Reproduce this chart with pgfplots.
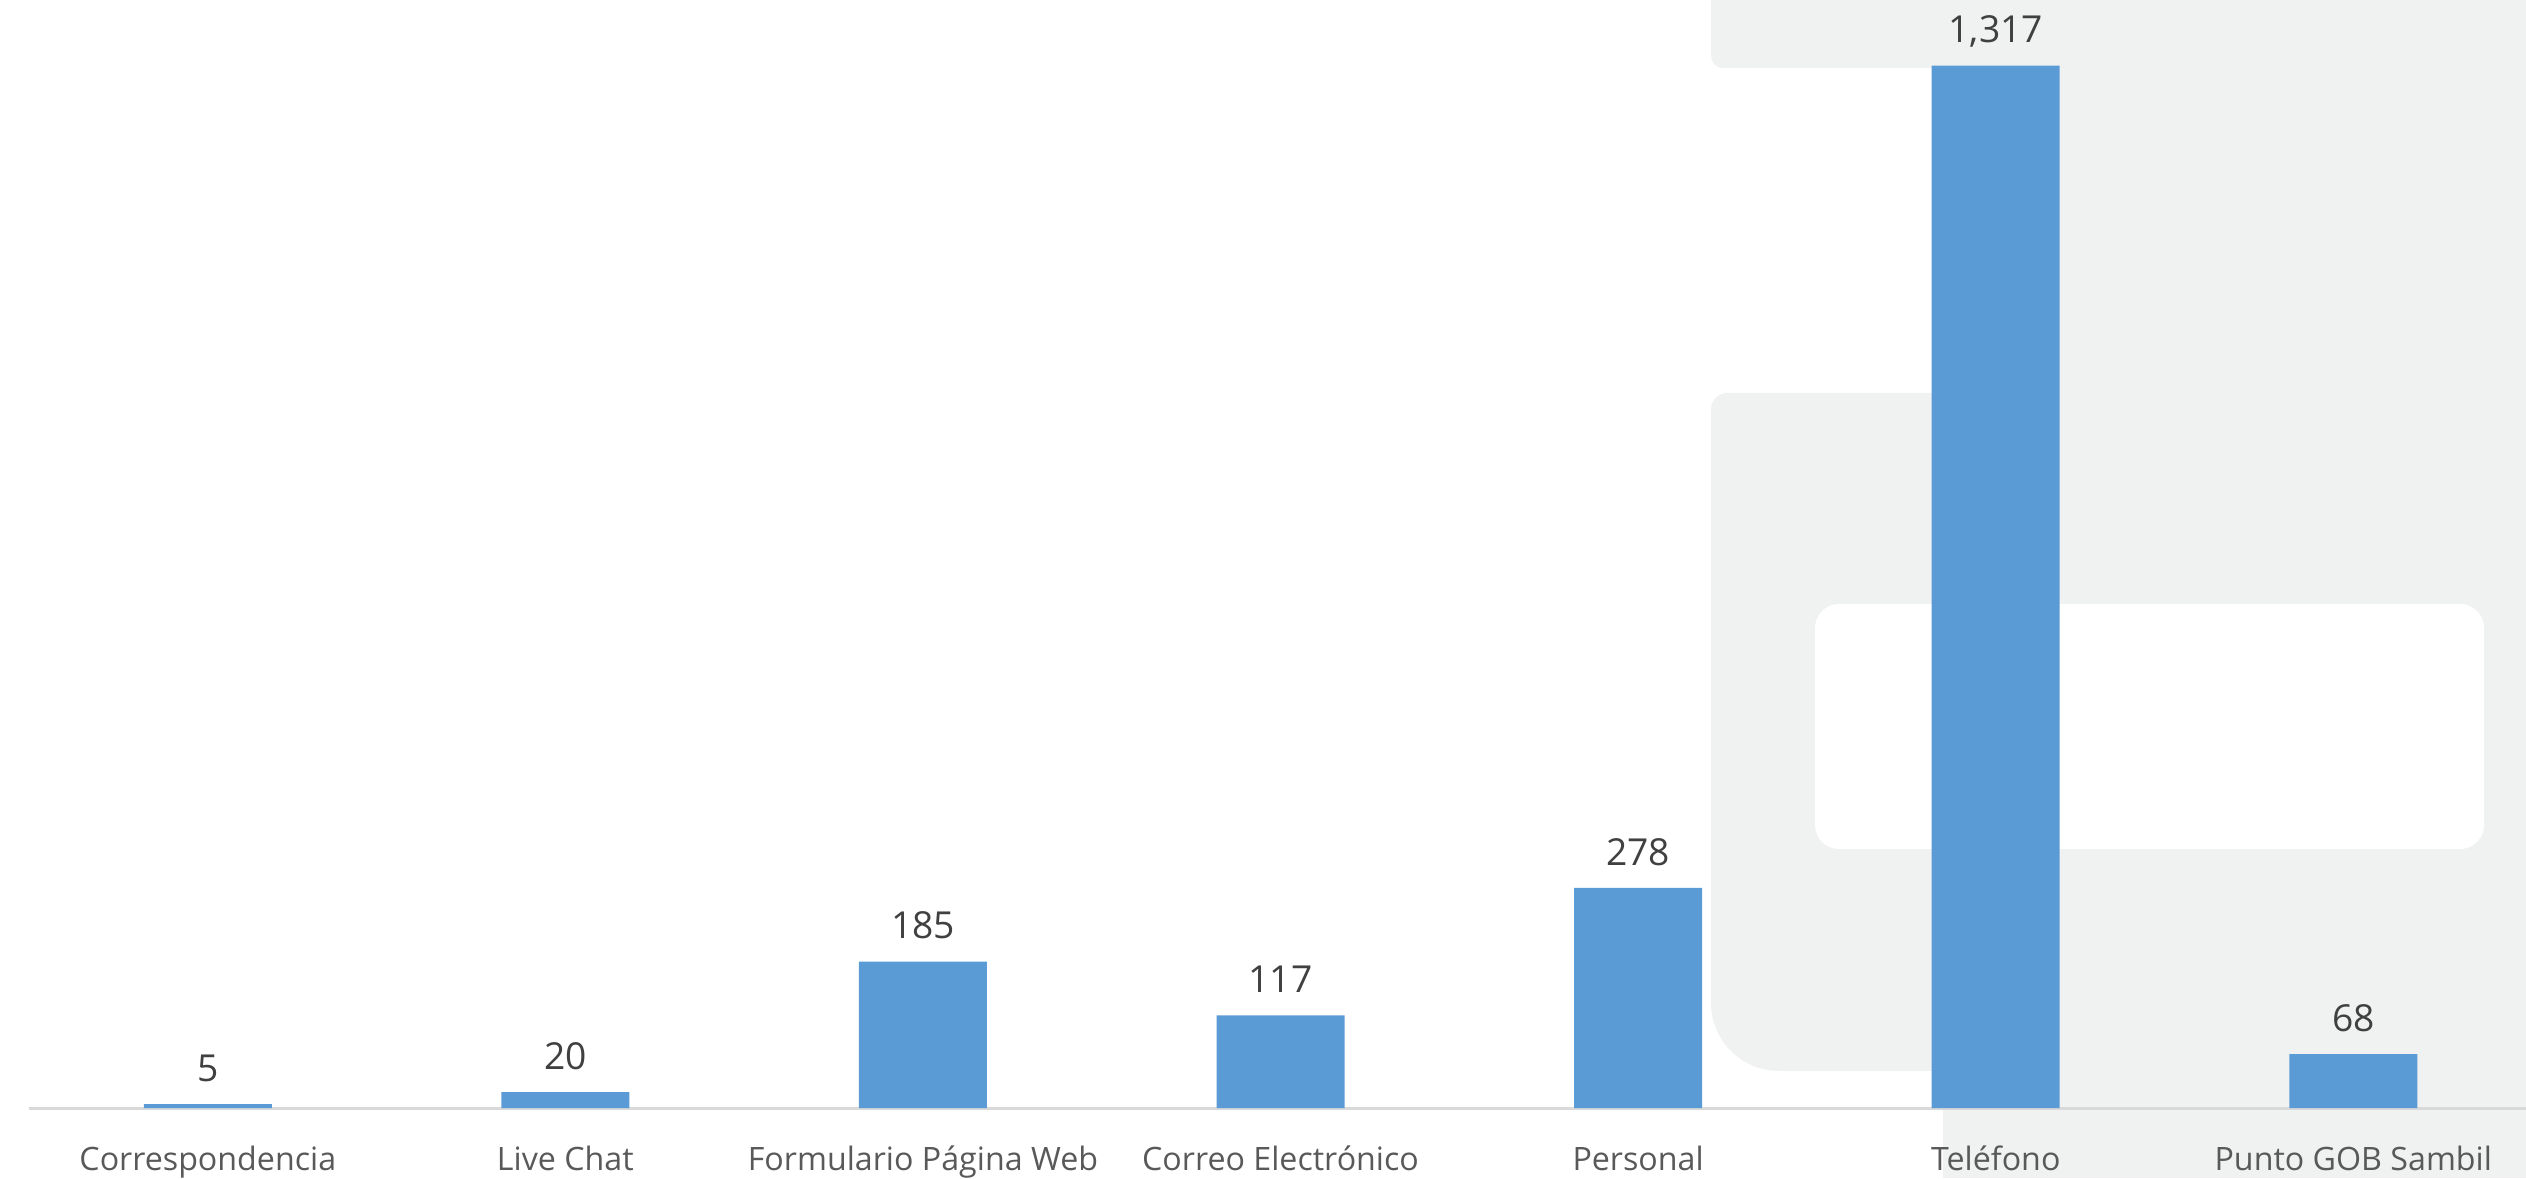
\documentclass[border=0pt]{standalone}
\usepackage{fontspec}
\setmainfont{Open Sans}
\usepackage{pgfplots}
\pgfplotsset{compat=1.18}
\definecolor{barblue}{HTML}{5B9BD5}
\definecolor{bggray}{HTML}{F0F1F1}
\definecolor{axisgray}{HTML}{D9D9D9}
\definecolor{ticktext}{HTML}{595959}
\definecolor{labeltext}{HTML}{404040}
\begin{document}
\begin{tikzpicture}
% background watermark, in reference pixel units
\begin{scope}[shift={(-7.25pt,277pt)},x=0.25pt,y=-0.25pt]
  \fill[bggray, rounded corners=3pt] (1711,0) rectangle (2526,68);
  \fill[bggray] (1760,0) rectangle (2526,68);
  \fill[bggray] (1711,0) rectangle (1760,30);
  \fill[bggray] (1995,0) rectangle (2526,1108);
  \fill[bggray] (1943,1108) rectangle (2526,1178);
  \fill[bggray, rounded corners=4pt] (1711,393) rectangle (1995,700);
  \fill[bggray, rounded corners=17pt] (1711,600) rectangle (1995,1071);
  \fill[bggray] (1850,393) rectangle (1995,1071);
  \fill[white, rounded corners=6pt] (1815,604) rectangle (2484,849);
\end{scope}
\begin{axis}[
  at={(0,0)}, anchor=south west,
  scale only axis, width=624.25pt, height=277pt,
  xmin=-0.5, xmax=6.483, ymin=0, ymax=1400,
  clip=false,
  ybar, bar width=32pt,
  hide y axis,
  axis x line*=bottom,
  x axis line style={axisgray, line width=0.75pt},
  xtick={0,1,2,3,4,5,6},
  xticklabels={Correspondencia, Live Chat, Formulario Página Web, Correo Electrónico, Personal, Teléfono, Punto GOB Sambil},
  major tick length=0pt,
  xtick style={draw=none},
  xticklabel style={font=\fontsize{8.05}{9.6}\selectfont, text=ticktext, anchor=base, yshift=-15.5pt, inner sep=0pt},
  nodes near coords={\raisebox{0pt}[\height][0pt]{\pgfmathprintnumber{\pgfplotspointmeta}}},
  every node near coord/.append style={font=\fontsize{9.3}{11}\selectfont, text=labeltext, anchor=south, inner sep=0pt, yshift=5.5pt},
  /pgf/number format/1000 sep={,},
  /pgf/number format/assume math mode=true,
]
\addplot[fill=barblue, draw=none] coordinates {(0,5) (1,20) (2,185) (3,117) (4,278) (5,1317) (6,68)};
\end{axis}
\pgfresetboundingbox
\path[use as bounding box] (-7.25pt,-17.5pt) rectangle (624.25pt,277pt);
\end{tikzpicture}
\end{document}
